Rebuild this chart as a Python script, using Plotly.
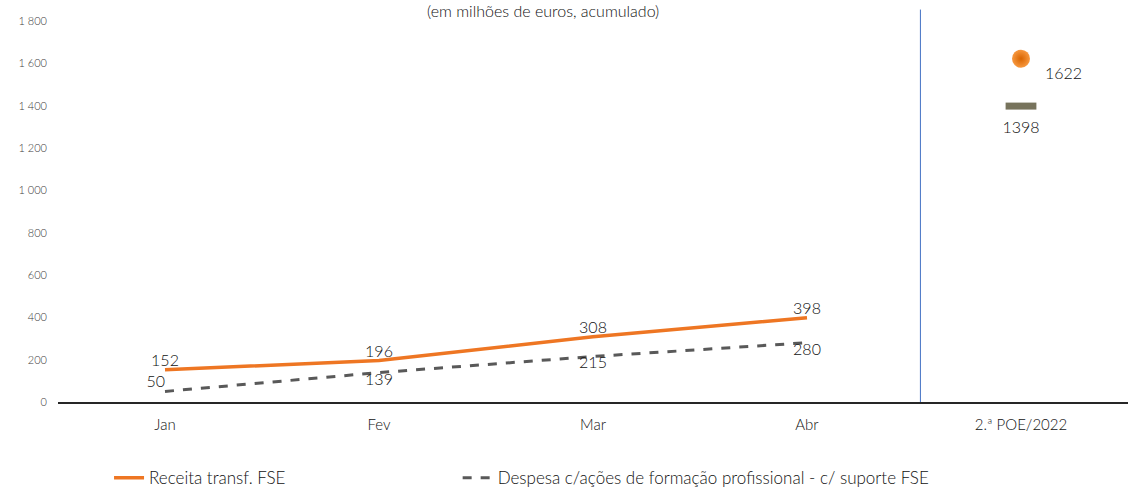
import plotly.graph_objects as go

categories = ["Jan", "Fev", "Mar", "Abr", "2.ª POE/2022"]
months = ["Jan", "Fev", "Mar", "Abr"]
receita = [152, 196, 308, 398]
despesa = [50, 139, 215, 280]
poe_receita = 1622
poe_despesa = 1398
y_ticks = [0, 200, 400, 600, 800, 1000, 1200, 1400, 1600, 1800]
y_ticktext = ["0", "200", "400", "600", "800", "1 000", "1 200", "1 400", "1 600", "1 800"]

FONT = "Lato"
TXT = "#111111"
W = 300

xpos = list(range(len(months)))
poe_x = len(categories) - 1

fig = go.Figure()
fig.add_trace(go.Scatter(
    x=xpos, y=receita, mode="lines+text", name="Receita transf. FSE",
    line=dict(color="#EE7623", width=3.5), legend="legend",
    text=[str(v) for v in receita], textposition="top center",
    textfont=dict(size=16, color=TXT, family=FONT, weight=W),
))
fig.add_trace(go.Scatter(
    x=xpos, y=despesa, mode="lines+text",
    name="Despesa c/ações de formação profissional - c/ suporte FSE",
    line=dict(color="#595959", width=3, dash="dash"), legend="legend2",
    text=[str(v) for v in despesa],
    textposition=["top left", "bottom center", "bottom center", "bottom center"],
    textfont=dict(size=16, color=TXT, family=FONT, weight=W),
))
fig.add_trace(go.Scatter(
    x=[poe_x], y=[poe_receita], mode="markers", showlegend=False,
    marker=dict(symbol="circle", size=18, color="#F7983F",
                gradient=dict(type="radial", color="#D86400"),
                line=dict(width=0)),
))
fig.add_trace(go.Scatter(
    x=[poe_x], y=[poe_despesa], mode="markers+text", showlegend=False,
    marker=dict(symbol="line-ew", size=22, color="#77735C",
                line=dict(width=7, color="#77735C")),
    text=[str(poe_despesa)], textposition="bottom center",
    textfont=dict(size=16, color=TXT, family=FONT, weight=W),
))
fig.add_annotation(x=poe_x, y=poe_receita, text=str(poe_receita), showarrow=False,
                   xshift=42, yshift=-14,
                   font=dict(size=16, color=TXT, family=FONT, weight=W))

fig.add_shape(type="line", xref="x", yref="paper", x0=3.53, x1=3.53, y0=0, y1=1.03,
              line=dict(color="#4472C4", width=1))

fig.add_annotation(text="(em milhões de euros, acumulado)", xref="paper", yref="paper",
                   x=0.453, y=1.058, showarrow=False, yanchor="top",
                   font=dict(size=16, color=TXT, family=FONT, weight=W))

legend_common = dict(orientation="h", xref="container", yref="container",
                     y=0.02, xanchor="left", yanchor="middle",
                     font=dict(size=17, color=TXT, family=FONT, weight=W))

fig.update_layout(
    width=1130, height=488,
    margin=dict(l=58, r=2, t=21, b=86, autoexpand=False),
    plot_bgcolor="white", paper_bgcolor="white",
    font=dict(family=FONT, color=TXT, weight=W),
    showlegend=True,
    legend=dict(x=0.0965, **legend_common),
    legend2=dict(x=0.405, **legend_common),
    xaxis=dict(tickvals=list(range(len(categories))), ticktext=categories,
               range=[-0.5, len(categories) - 0.5], showgrid=False, zeroline=False,
               showline=True, linecolor="#262626", linewidth=1.5, ticks="",
               automargin=False, ticklabelstandoff=8,
               tickfont=dict(size=15, color=TXT, family=FONT, weight=W)),
    yaxis=dict(range=[0, 1800], tickvals=y_ticks, ticktext=y_ticktext,
               showgrid=False, zeroline=False, showline=False, ticks="",
               automargin=False, ticklabelstandoff=10,
               tickfont=dict(size=11, color="#404040", family=FONT, weight=W)),
)

fig.write_html("out.html", config={"displayModeBar": False},
               post_script="document.body.style.margin='0';document.body.style.padding='0';")
